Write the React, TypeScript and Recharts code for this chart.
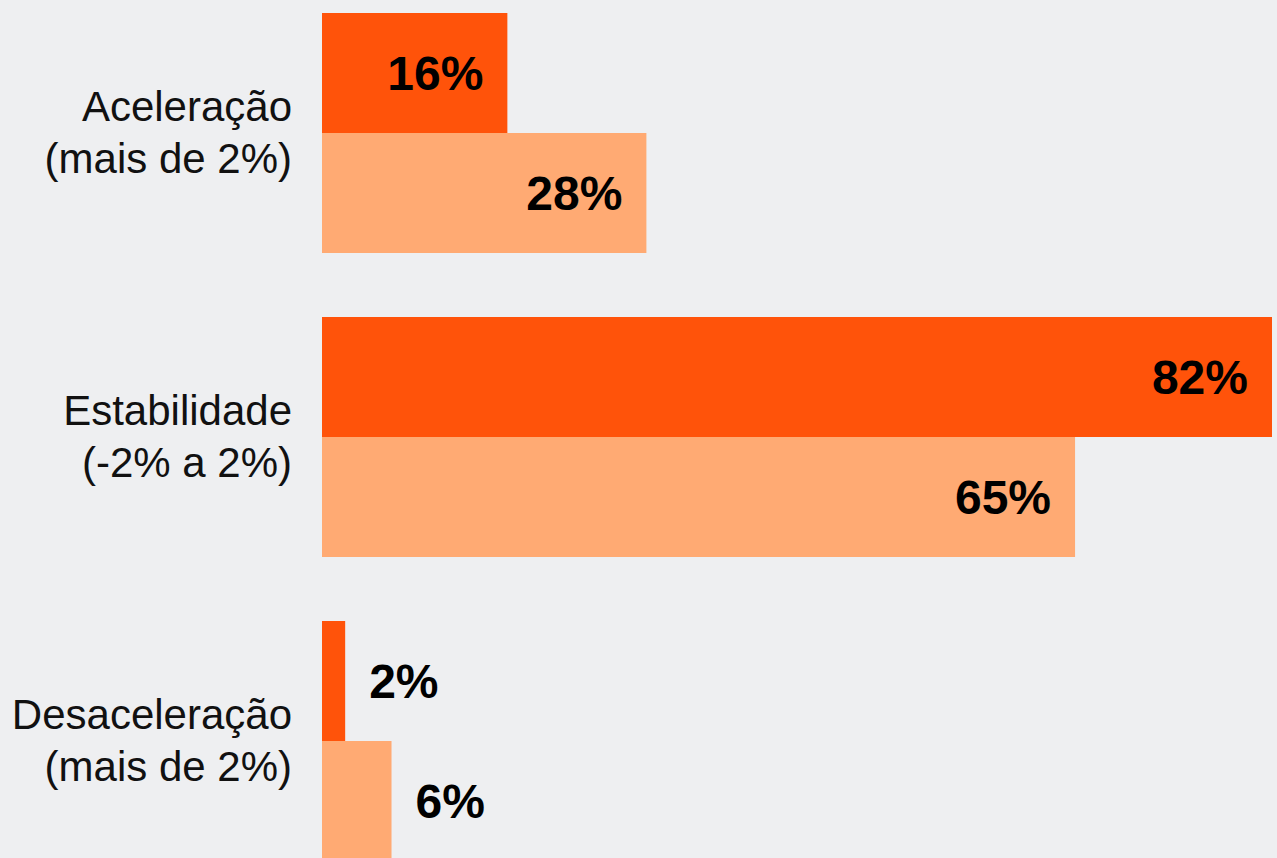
import React from "react";
import { BarChart, Bar, XAxis, YAxis, LabelList } from "recharts";

const categories = [
  "Aceleração\n(mais de 2%)",
  "Estabilidade\n(-2% a 2%)",
  "Desaceleração\n(mais de 2%)",
];
const seriesA = [16, 82, 2];
const seriesB = [28, 65, 6];
const xMax = 82;

const DARK = "#FF530A";
const LIGHT = "#FFAA73";
const BG = "#EEEFF1";
const FONT = "'Liberation Sans', Arial, Helvetica, sans-serif";

const data = categories.map((c, i) => ({ name: c, a: seriesA[i], b: seriesB[i] }));

const CategoryTick = (props: any) => {
  const { x, y, payload } = props;
  const lines = String(payload.value).split("\n");
  return (
    <text x={x} y={y} textAnchor="end" fill="#111" fontFamily={FONT} fontSize={42}>
      <tspan x={x} y={y - 12}>{lines[0]}</tspan>
      <tspan x={x} y={y + 40}>{lines[1]}</tspan>
    </text>
  );
};

const ValueLabel = (props: any) => {
  const { x, y, width, height, value } = props;
  const inside = Number(value) >= 10;
  const tx = inside ? x + width - 24 : x + width + 24;
  return (
    <text
      x={tx}
      y={y + height / 2 + 17}
      textAnchor={inside ? "end" : "start"}
      fill="#000"
      fontFamily={FONT}
      fontWeight={700}
      fontSize={48}
    >
      {`${value}%`}
    </text>
  );
};

export default function App() {
  return (
    <div
      style={{
        position: "fixed",
        top: 0,
        left: 0,
        width: 1277,
        height: 858,
        overflow: "hidden",
        background: BG,
      }}
    >
      <div style={{ position: "absolute", top: -19, left: 0 }}>
        <BarChart
          width={1277}
          height={912}
          data={data}
          layout="vertical"
          margin={{ top: 0, right: 5, bottom: 0, left: 0 }}
          barGap={0}
          barSize={120}
        >
          <XAxis type="number" domain={[0, xMax]} hide />
          <YAxis
            type="category"
            dataKey="name"
            width={322}
            axisLine={false}
            tickLine={false}
            tickSize={0}
            tickMargin={30}
            tick={<CategoryTick />}
            interval={0}
          />
          <Bar dataKey="a" fill={DARK} isAnimationActive={false}>
            <LabelList dataKey="a" content={<ValueLabel />} />
          </Bar>
          <Bar dataKey="b" fill={LIGHT} isAnimationActive={false}>
            <LabelList dataKey="b" content={<ValueLabel />} />
          </Bar>
        </BarChart>
      </div>
    </div>
  );
}
